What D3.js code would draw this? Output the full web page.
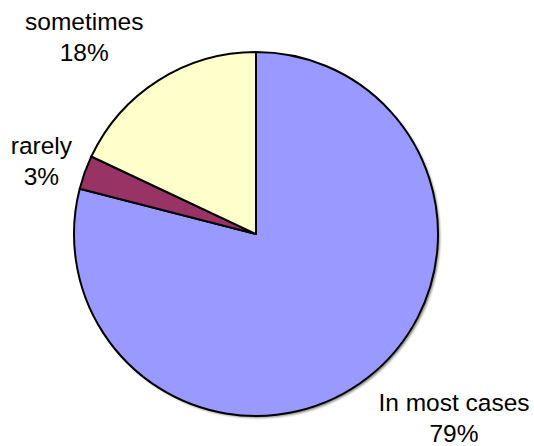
<!DOCTYPE html>
<html>
<head>
<meta charset="utf-8">
<script src="https://cdn.jsdelivr.net/npm/d3@7/dist/d3.min.js"></script>
<style>
  html, body { margin: 0; padding: 0; background: #fff; }
  svg { display: block; }
  text { font-family: "Liberation Sans", Arial, sans-serif; fill: #000; }
</style>
</head>
<body>
<svg id="chart" width="534" height="446"></svg>
<script>
// Answer shares, in drawing order clockwise from 12 o'clock
const categories = ["In most cases", "rarely", "sometimes"];
const percents = [79, 3, 18];
const sliceColors = ["#9999FF", "#993366", "#FFFFCC"];

const width = 534, height = 446;
const cx = 256, cy = 234, radius = 182;
const fontSize = 24.5, lineGap = 31;

const svg = d3.select("#chart");

// soft shadow beneath the pie
const defs = svg.append("defs");
const f = defs.append("filter").attr("id", "shadow")
  .attr("x", "-10%").attr("y", "-10%").attr("width", "120%").attr("height", "120%");
f.append("feDropShadow").attr("dx", 2).attr("dy", 2).attr("stdDeviation", 1.2)
  .attr("flood-color", "#000").attr("flood-opacity", 0.45);

const data = categories.map((c, i) => ({ name: c, value: percents[i], color: sliceColors[i] }));

const pie = d3.pie().sort(null).value(d => d.value).startAngle(0).endAngle(2 * Math.PI);
const arcs = pie(data);
const arc = d3.arc().innerRadius(0).outerRadius(radius);
const labelArc = d3.arc().innerRadius(radius * 1.3).outerRadius(radius * 1.3);

const g = svg.append("g").attr("transform", `translate(${cx},${cy})`);

g.append("circle").attr("r", radius).attr("fill", "#fff").attr("filter", "url(#shadow)");

g.selectAll("path.slice")
  .data(arcs)
  .join("path")
  .attr("class", "slice")
  .attr("d", arc)
  .attr("fill", d => d.data.color)
  .attr("stroke", "#000")
  .attr("stroke-width", 2)
  .attr("stroke-linejoin", "round");

// label placement: slice mid-angle, pushed outward and nudged clear of the rim
const nudge = {
  "In most cases": [53, -10],
  "rarely": [8, 0],
  "sometimes": [-45, -4]
};

const labels = g.selectAll("text.label")
  .data(arcs)
  .join("text")
  .attr("class", "label")
  .attr("text-anchor", "middle")
  .attr("font-size", fontSize)
  .attr("transform", d => {
    const [x, y] = labelArc.centroid(d);
    const [dx, dy] = nudge[d.data.name];
    return `translate(${x + dx},${y + dy})`;
  });

labels.append("tspan").attr("x", 0).attr("y", 0).text(d => d.data.name);
labels.append("tspan").attr("x", 0).attr("y", lineGap)
  .text(d => d3.format(".0f")(d.value) + "%");
</script>
</body>
</html>
